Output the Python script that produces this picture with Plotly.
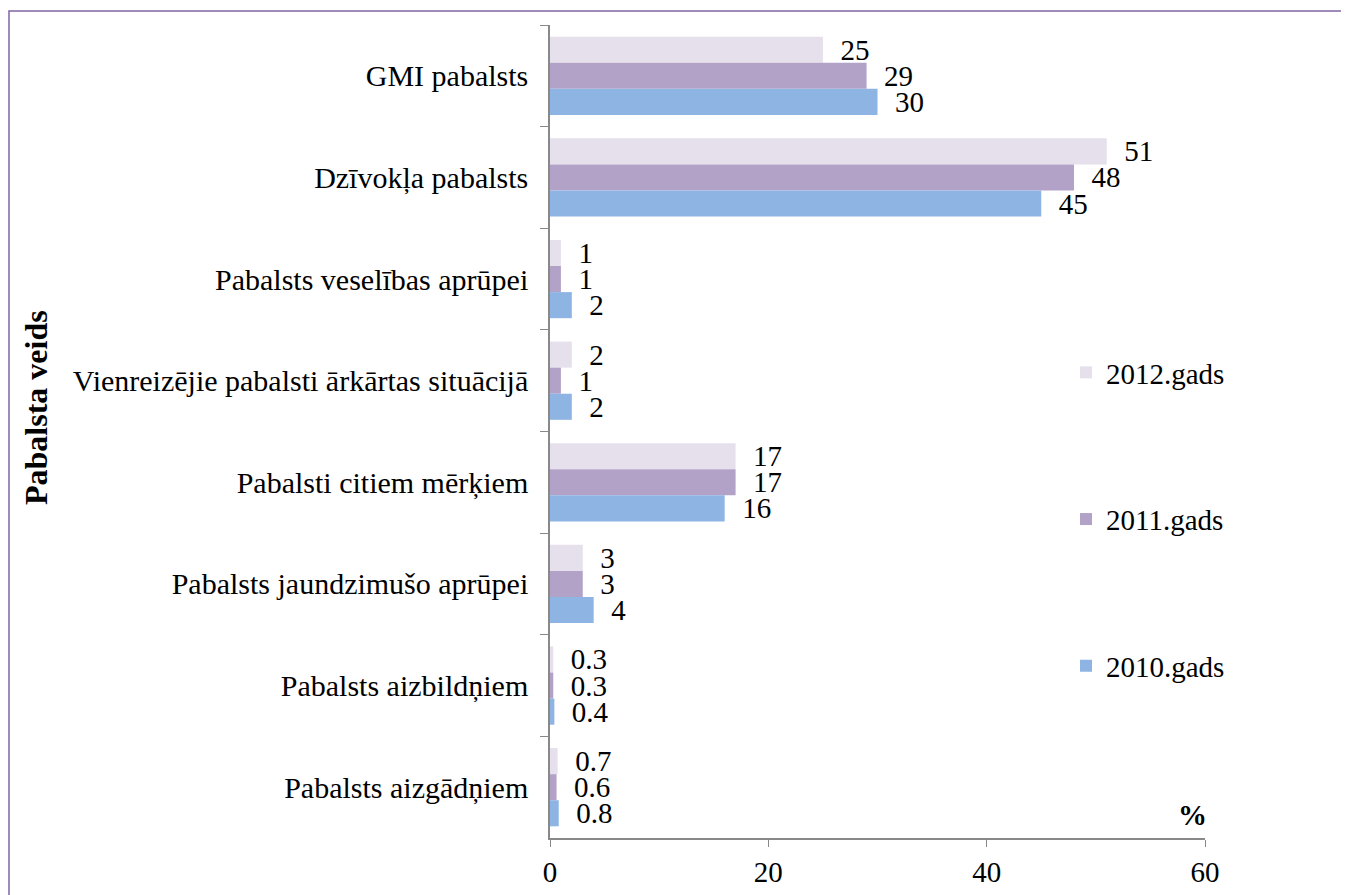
import plotly.graph_objects as go

categories = [
    "GMI pabalsts",
    "Dzīvokļa pabalsts",
    "Pabalsts veselības aprūpei",
    "Vienreizējie pabalsti ārkārtas situācijā",
    "Pabalsti citiem mērķiem",
    "Pabalsts jaundzimušo aprūpei",
    "Pabalsts aizbildņiem",
    "Pabalsts aizgādņiem",
]
years = ["2012.gads", "2011.gads", "2010.gads"]
values_2012 = [25, 51, 1, 2, 17, 3, 0.3, 0.7]
values_2011 = [29, 48, 1, 1, 17, 3, 0.3, 0.6]
values_2010 = [30, 45, 2, 2, 16, 4, 0.4, 0.8]
colors = ["#E6E0EC", "#B3A2C7", "#8EB4E3"]

FONT = "Liberation Serif, Times New Roman, Tinos, serif"
OFF = 8  # page body margin
W, H = 1349, 895
# plot area in page pixels: x 550..1205, y 25..838
L, T = 550 - OFF, 25 - OFF
R = W - (1205 - OFF)
B = H - (838 - OFF)
pw, ph = W - L - R, H - T - B


def px_x(x):
    return (x - OFF - L) / pw


def px_y(y):
    return (H - B - (y - OFF)) / ph


fig = go.Figure()
for name, vals, col in zip(years, [values_2012, values_2011, values_2010], colors):
    fig.add_trace(go.Bar(
        y=categories, x=vals, name=name, orientation="h",
        marker=dict(color=col, line=dict(width=0)),
        text=["\u00a0\u00a0" + str(v) for v in vals],
        textposition="outside", constraintext="none", cliponaxis=False,
        textfont=dict(family=FONT, size=29, color="black"),
        legendgroup=name,
    ))

fig.update_layout(
    width=W, height=H,
    margin=dict(l=L, r=R, t=T, b=B),
    plot_bgcolor="white", paper_bgcolor="white",
    barmode="group", bargap=0.23, bargroupgap=0,
    font=dict(family=FONT, size=29, color="black"),
    legend=dict(x=px_x(1066), y=px_y(347), xanchor="left", yanchor="top",
                traceorder="grouped", tracegroupgap=106,
                font=dict(family=FONT, size=29), bgcolor="rgba(0,0,0,0)"),
    xaxis=dict(range=[0, 60], dtick=20, showgrid=False, zeroline=False,
               showline=True, linecolor="#898989", linewidth=1.5,
               ticks="outside", ticklen=7, tickcolor="#898989",
               tickfont=dict(family=FONT, size=29)),
    yaxis=dict(type="category", categoryorder="array", categoryarray=categories,
               autorange="reversed", showgrid=False, showline=True,
               linecolor="#898989", linewidth=1.5, ticks="outside",
               tickson="boundaries", ticklen=8, tickcolor="#898989",
               ticklabelstandoff=14,
               tickfont=dict(family=FONT, size=30)),
)

fig.add_annotation(text="<b>Pabalsta veids</b>", textangle=-90,
                   xref="paper", yref="paper", x=px_x(36), y=px_y(408),
                   xanchor="center", yanchor="middle",
                   showarrow=False, font=dict(family=FONT, size=32))
fig.add_annotation(text="<b>%</b>", xref="paper", yref="paper",
                   x=px_x(1192), y=px_y(815), xanchor="center", yanchor="middle",
                   showarrow=False, font=dict(family=FONT, size=29))

# outer frame
fig.add_shape(type="rect", xref="paper", yref="paper",
              x0=px_x(9), x1=px_x(1345), y0=px_y(930), y1=px_y(11),
              line=dict(color="#8064A2", width=1.5))

fig.write_html("out.html")
